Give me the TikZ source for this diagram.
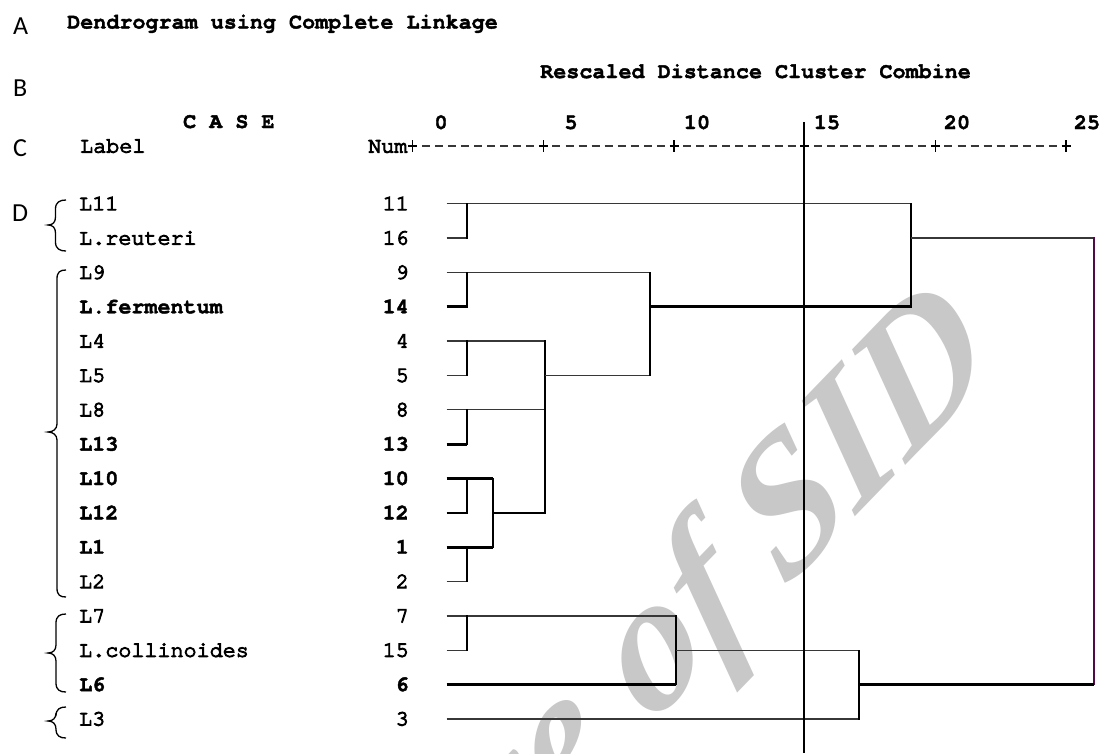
\documentclass[tikz,border=0pt]{standalone}
\usepackage{fontspec}
\setmainfont{Liberation Serif}
\newfontfamily\curbf{texgyrecursor-bold.otf}
\newfontfamily\curreg{texgyrecursor-regular.otf}
\newfontfamily\calib{Carlito}
\newfontfamily\wmfont{Liberation Serif Bold Italic}
\def\strokem{1.05}
\def\strokeb{0.4}
\newcommand\medtxt[2]{\special{pdf:literal direct 2 Tr #1 w}#2\special{pdf:literal direct 0 Tr}}
\definecolor{wmgray}{RGB}{200,200,200}
\definecolor{linegray}{RGB}{55,55,55}
\definecolor{lastline}{RGB}{80,10,70}
\tikzset{
  mfont/.style={font=\curreg\fontsize{21.75}{22}\selectfont},
  bfont/.style={font=\curbf\fontsize{21.75}{22}\selectfont},
  labm/.style={mfont, inner sep=0pt, anchor=base west},
  labb/.style={bfont, inner sep=0pt, anchor=base west},
  numm/.style={mfont, inner sep=0pt, anchor=base east},
  numb/.style={bfont, inner sep=0pt, anchor=base east},
  axnum/.style={bfont, inner sep=0pt, anchor=base},
  side/.style={font=\calib\fontsize{26}{26}\selectfont, inner sep=0pt, anchor=base west},
  wm/.style={cm={0.695,0.719,-0.560,0.828,(0,0)}, inner sep=0pt, text=wmgray,
      font=\wmfont\fontsize{185}{185}\selectfont},
  hl/.style={line width=1.3pt, draw=linegray},
  hb/.style={line width=2.7pt, draw=black},
  vl/.style={line width=1.5pt, draw=black, line cap=rect},
  vlp/.style={line width=1.6pt, draw=lastline, line cap=rect},
  bracel/.style={line width=1.3pt, draw=black},
}
\newcommand\mybrace[4]{% spine x, top, mid, bottom
  \draw[bracel] (66,#2) .. controls (60,#2) and (#1,#2+2) .. (#1,{#2+9})
    -- (#1,{#3-8}) .. controls (#1,{#3-3}) and (53,#3) .. (48,#3)
    .. controls (53,#3) and (#1,{#3+3}) .. (#1,{#3+8})
    -- (#1,{#4-9}) .. controls (#1,{#4-2}) and (60,#4) .. (66,#4);}
\begin{document}
\begin{tikzpicture}[x=1pt,y=-1pt]
\useasboundingbox[fill=white] (0,0) rectangle (1104,753);
% watermark
\begin{scope}
\clip (0,0) rectangle (1104,753);
\node[wm, anchor=base east] (wm1) at (758,616) {Archive of};
\node[wm, anchor=base west] (wm2) at (785,590) {SID};
\end{scope}
% side letters
\node[side] (sA) at (13,34) {A};
\node[side] (sB) at (13,96.5) {B};
\node[side] (sC) at (13,156.5) {C};
\node[side] (sD) at (12,221.5) {D};
% header
\node[bfont, inner sep=0pt, anchor=base west] (title) at (67,28.5) {\medtxt{\strokeb}{Dendrogram using Complete Linkage}};
\node[bfont, inner sep=0pt, anchor=base west] (resc) at (540,78) {\medtxt{\strokeb}{Rescaled Distance Cluster Combine}};
\node[bfont, inner sep=0pt, anchor=base west] (case) at (183,128) {\medtxt{\strokeb}{C A S E}};
\node[labm] (label) at (80,152.5) {\medtxt{\strokem}{Label}};
\node[labm] (numh) at (368,152.5) {\medtxt{\strokem}{Num}};
% axis numbers
\node[axnum] (n0) at (441,129) {\medtxt{\strokeb}{0}};
\node[axnum] (n5) at (571,129) {\medtxt{\strokeb}{5}};
\node[axnum] (n10) at (697,129) {\medtxt{\strokeb}{10}};
\node[axnum] (n15) at (827,129) {\medtxt{\strokeb}{15}};
\node[axnum] (n20) at (957,129) {\medtxt{\strokeb}{20}};
\node[axnum] (n25) at (1087,129) {\medtxt{\strokeb}{25}};
% axis
\coordinate (axs) at (421.8,146);
\coordinate (axe) at (1062,146);
\draw[line width=1.2pt, draw=linegray, dash pattern=on 8pt off 5.066pt] (axs) -- (axe);
\foreach \k in {0,...,5}{
  \coordinate (t\k) at ({412.7+130.66*\k},146);
  \draw[line width=1.3pt] (t\k) ++(-4.5,0) -- ++(9,0);
  \draw[line width=1.3pt] (t\k) ++(0,-6) -- ++(0,12);
}
% rows
\foreach \i/\lab/\num/\st in {0/L11/11/m,1/L.reuteri/16/m,2/L9/9/m,3/L.fermentum/14/b,
  4/L4/4/m,5/L5/5/m,6/L8/8/m,7/L13/13/b,8/L10/10/b,9/L12/12/b,10/L1/1/b,11/L2/2/m,
  12/L7/7/m,13/L.collinoides/15/m,14/L6/6/b,15/L3/3/m}{
  \node[lab\st] (lab\i) at (79,{203.7+34.35*\i+6.5}) {\medtxt{\csname stroke\st\endcsname}{\lab}};
  \node[num\st] (num\i) at (409,{203.7+34.35*\i+6.5}) {\medtxt{\csname stroke\st\endcsname}{\num}};
  \coordinate (r\i) at (446.7,{203.7+34.35*\i});
}
% merge x positions
\coordinate (XA) at (467,0);
\coordinate (XB) at (493,0);
\coordinate (XC) at (545,0);
\coordinate (XD) at (650,0);
\coordinate (XE) at (676,0);
\coordinate (XF) at (859,0);
\coordinate (XG) at (911,0);
\coordinate (XH) at (1094,0);
% dendrogram
\draw[hl] (r0) -- (r0 -| XG);
\draw[hl] (r1) -- (r1 -| XA);
\draw[vl] (r0 -| XA) -- (r1 -| XA);
\draw[hl] (r2) -- (r2 -| XD);
\draw[hb] (r3) -- (r3 -| XA);
\draw[vl] (r2 -| XA) -- (r3 -| XA);
\draw[hl] (r4) -- (r4 -| XC);
\draw[hl] (r5) -- (r5 -| XA);
\draw[vl] (r4 -| XA) -- (r5 -| XA);
\draw[hl] (r6) -- (r6 -| XC);
\draw[hb] (r7) -- (r7 -| XA);
\draw[vl] (r6 -| XA) -- (r7 -| XA);
\draw[hb] (r8) -- (r8 -| XB);
\draw[hb] (r9) -- (r9 -| XA);
\draw[vl] (r8 -| XA) -- (r9 -| XA);
\draw[hb] (r10) -- (r10 -| XB);
\draw[hl] (r11) -- (r11 -| XA);
\draw[vl] (r10 -| XA) -- (r11 -| XA);
\draw[vl] (r8 -| XB) -- (r10 -| XB);
\draw[hb] (r9 -| XB) -- (r9 -| XC);
\draw[vl] (r4 -| XC) -- (r9 -| XC);
\draw[hl] (r5 -| XC) -- (r5 -| XD);
\draw[vl] (r2 -| XD) -- (r5 -| XD);
\draw[hb] (r3 -| XD) -- (r3 -| XG);
\draw[vl] (r0 -| XG) -- (r3 -| XG);
\draw[hl] (r1 -| XG) -- (r1 -| XH);
\draw[vlp] (r1 -| XH) -- (r14 -| XH);
\draw[hl] (r12) -- (r12 -| XE);
\draw[hl] (r13) -- (r13 -| XA);
\draw[vl] (r12 -| XA) -- (r13 -| XA);
\draw[hb] (r14) -- (r14 -| XE);
\draw[vl] (r12 -| XE) -- (r14 -| XE);
\draw[hl] (r13 -| XE) -- (r13 -| XF);
\draw[hl] (r15) -- (r15 -| XF);
\draw[vl] (r13 -| XF) -- (r15 -| XF);
\draw[hb] (r14 -| XF) -- (r14 -| XH);
% cut line
\coordinate (cutT) at (804,122);
\coordinate (cutB) at (804,753);
\draw[line width=2pt] (cutT) -- (cutB);
% braces
\mybrace{55.5}{200}{225}{251}
\mybrace{57}{270}{432}{597}
\mybrace{56}{614}{653}{692}
\mybrace{56}{707}{721}{738}
\end{tikzpicture}
\end{document}
